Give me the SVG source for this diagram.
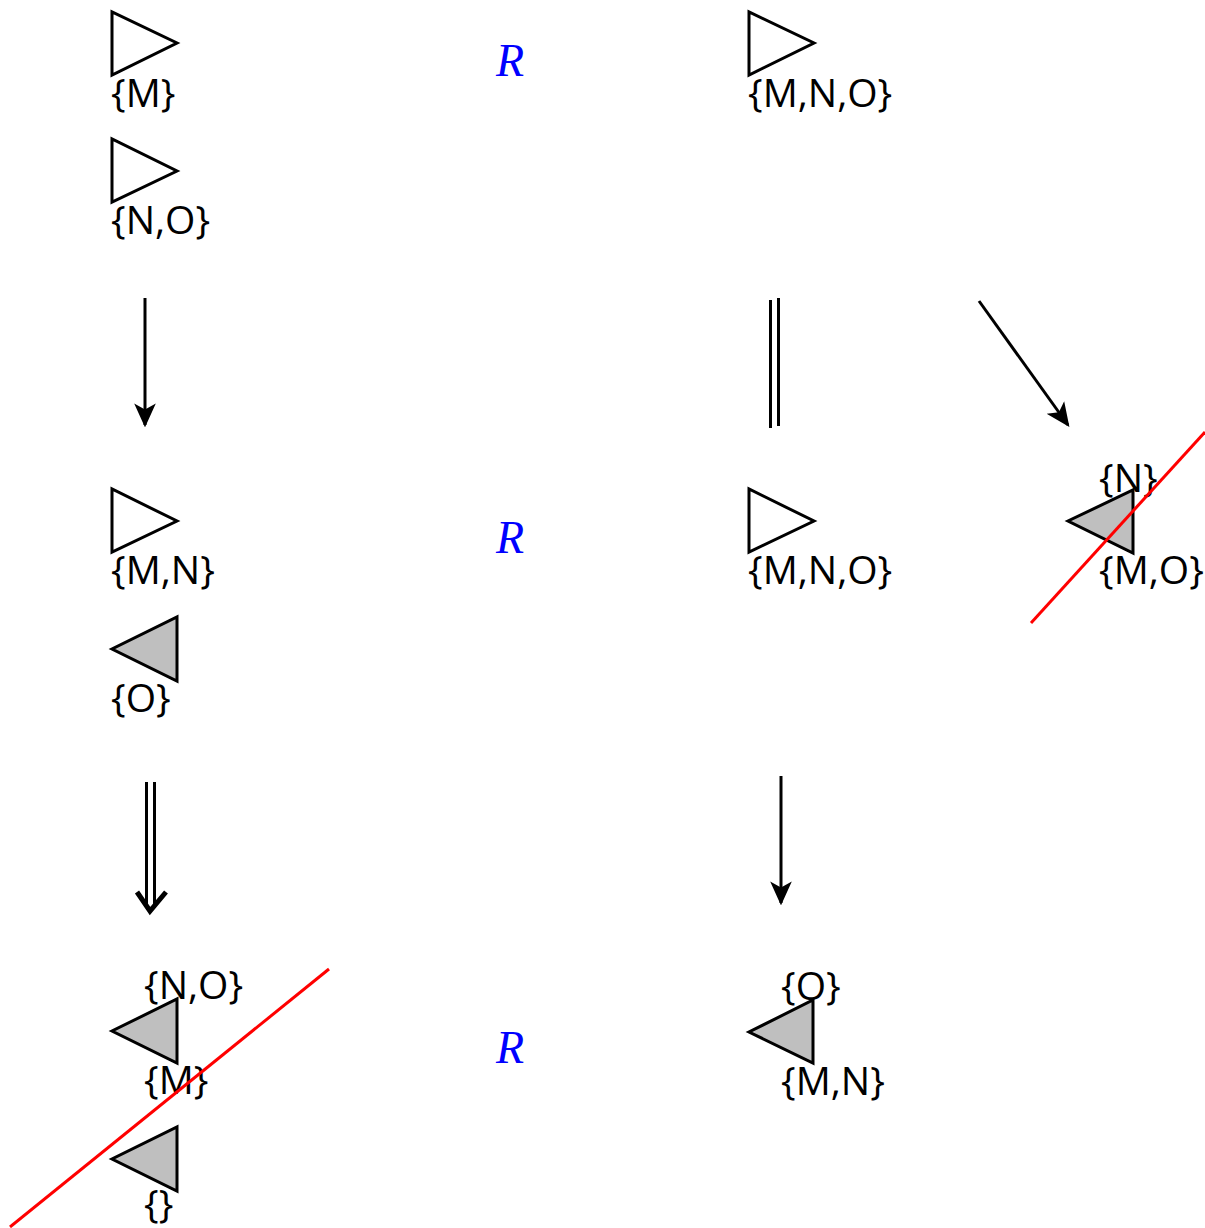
<svg xmlns="http://www.w3.org/2000/svg" width="1205" height="1228" viewBox="0 0 1205 1228">
<style>
.w{fill:#fff;stroke:#000;stroke-width:3}
.g{fill:#bfbfbf;stroke:#000;stroke-width:3}
.t{font-family:"Open Sans","Noto Sans",sans-serif;font-size:39px;fill:#000}
.r{font-family:"Liberation Serif",serif;font-style:italic;font-size:46px;fill:#00f}
.c{stroke:#000;stroke-width:3;fill:none}
.h{stroke:#000;stroke-width:5;fill:none}
.x{stroke:#f00;stroke-width:3}
</style>
<defs>
<marker id="ah" viewBox="0 0 10 10" refX="9" refY="5" markerWidth="24" markerHeight="24" markerUnits="userSpaceOnUse" orient="auto">
<path d="M0,0.5 L10,5 L0,9.5 L2.5,5 Z" fill="#000"/>
</marker>
</defs>
<g id="n1"><polygon class="w" points="112,12 112,75 177,43"/><text class="t" x="111" y="107">{M}</text></g>
<g id="n2"><polygon class="w" points="112,139 112,202 177,171"/><text class="t" x="111" y="234">{N,O}</text></g>
<g id="n3"><polygon class="w" points="749,12 749,75 814,43"/><text class="t" x="748" y="107">{M,N,O}</text></g>
<g id="n4"><polygon class="w" points="112,489 112,552 177,521"/><text class="t" x="111" y="584">{M,N}</text></g>
<g id="n5"><polygon class="g" points="177,617 177,681 112,649"/><text class="t" x="111" y="712">{O}</text></g>
<g id="n6"><polygon class="w" points="749,489 749,552 814,521"/><text class="t" x="748" y="584">{M,N,O}</text></g>
<g id="n7"><polygon class="g" points="1133,490 1133,553 1068,521"/><text class="t" x="1099" y="492">{N}</text><text class="t" x="1099" y="584">{M,O}</text><line class="x" x1="1031" y1="623" x2="1205" y2="432"/></g>
<g id="n8"><polygon class="g" points="177,999 177,1063 112,1031"/><text class="t" x="144" y="999">{N,O}</text><text class="t" x="144" y="1094">{M}</text></g>
<g id="n9"><polygon class="g" points="177,1127 177,1191 112,1159"/><text class="t" x="144" y="1218">{}</text></g>
<g id="n10"><polygon class="g" points="813,1000 813,1063 749,1032"/><text class="t" x="781" y="1000">{O}</text><text class="t" x="781" y="1095">{M,N}</text></g>
<line class="x" x1="10" y1="1227" x2="329" y2="969"/>
<g id="rels"><text class="r" x="496" y="76">R</text><text class="r" x="496" y="553">R</text><text class="r" x="496" y="1063">R</text></g>
<g id="connectors">
<line class="c" x1="145" y1="298" x2="145" y2="425" marker-end="url(#ah)"/>
<line class="c" x1="770.5" y1="300" x2="770.5" y2="428"/>
<line class="c" x1="778.5" y1="298" x2="778.5" y2="426"/>
<line class="c" x1="979" y1="301" x2="1068" y2="425" marker-end="url(#ah)"/>
<line class="c" x1="146.5" y1="782" x2="146.5" y2="908"/>
<line class="c" x1="154.5" y1="782" x2="154.5" y2="908"/>
<polyline class="h" points="137,892 150,911 166,892"/>
<line class="c" x1="781" y1="776" x2="781" y2="903" marker-end="url(#ah)"/>
</g>
</svg>
